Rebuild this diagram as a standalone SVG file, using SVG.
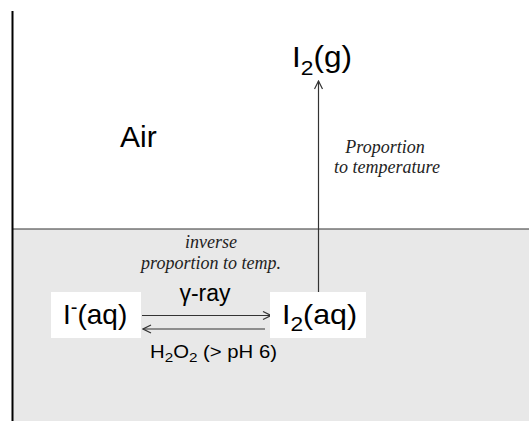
<svg xmlns="http://www.w3.org/2000/svg" width="529" height="421" viewBox="0 0 529 421">
  <defs>
    <style>
      .sans { font-family: "Liberation Sans", Arial, sans-serif; fill: #000; }
      .ital { font-family: "Liberation Serif", "Times New Roman", serif; font-style: italic; fill: #1e1e1e; font-size: 18px; }
      .conn { stroke: #333; stroke-width: 1.2; fill: none; }
      .box { fill: #fff; }
    </style>
    <marker id="open" viewBox="0 0 10 10" refX="9" refY="5" markerWidth="10" markerHeight="10" markerUnits="userSpaceOnUse" orient="auto">
      <path d="M1,1 L9,5 L1,9" fill="none" stroke="#333" stroke-width="1.2"/>
    </marker>
  </defs>

  <g id="background">
    <rect x="13" y="229" width="516" height="192" fill="#e8e8e8"/>
    <line x1="13" y1="229" x2="529" y2="229" stroke="#333" stroke-width="1.2"/>
    <line x1="12.5" y1="11" x2="12.5" y2="421" stroke="#000" stroke-width="2"/>
  </g>

  <g id="air">
    <text class="sans" x="120" y="147" font-size="30">Air</text>
  </g>

  <g id="connectors">
    <line class="conn" x1="318.5" y1="292" x2="318.5" y2="81" marker-end="url(#open)"/>
    <line class="conn" x1="142" y1="315.5" x2="271" y2="315.5" marker-end="url(#open)"/>
    <line class="conn" x1="265" y1="329" x2="143" y2="329" marker-end="url(#open)"/>
  </g>

  <g id="I2g">
    <text class="sans" x="292" y="67" font-size="29" textLength="60" lengthAdjust="spacingAndGlyphs">I<tspan font-size="21" dy="8">2</tspan><tspan dy="-8">(g)</tspan></text>
  </g>

  <g id="Iaq">
    <rect class="box" x="51" y="292" width="90" height="46"/>
    <text class="sans" x="63" y="324" font-size="28">I<tspan font-size="20" dy="-10">-</tspan><tspan dy="10">(aq)</tspan></text>
  </g>

  <g id="I2aq">
    <rect class="box" x="270" y="292" width="96" height="46"/>
    <text class="sans" x="282" y="324" font-size="28" textLength="75" lengthAdjust="spacingAndGlyphs">I<tspan font-size="21" dy="7">2</tspan><tspan dy="-7">(aq)</tspan></text>
  </g>

  <g id="labels">
    <text class="sans" x="205" y="300.5" font-size="23" text-anchor="middle" fill="#111">γ-ray</text>
    <text class="sans" x="150" y="358" font-size="18" fill="#222" textLength="127" lengthAdjust="spacingAndGlyphs">H<tspan font-size="13.5" dy="4">2</tspan><tspan dy="-4">O</tspan><tspan font-size="13.5" dy="4">2</tspan><tspan dy="-4"> (&gt; pH 6)</tspan></text>
    <text class="ital" x="211" y="248" text-anchor="middle">inverse</text>
    <text class="ital" x="211" y="269" text-anchor="middle">proportion to temp.</text>
    <text class="ital" x="385" y="153" text-anchor="middle">Proportion</text>
    <text class="ital" x="387" y="172.5" text-anchor="middle">to temperature</text>
  </g>
</svg>
